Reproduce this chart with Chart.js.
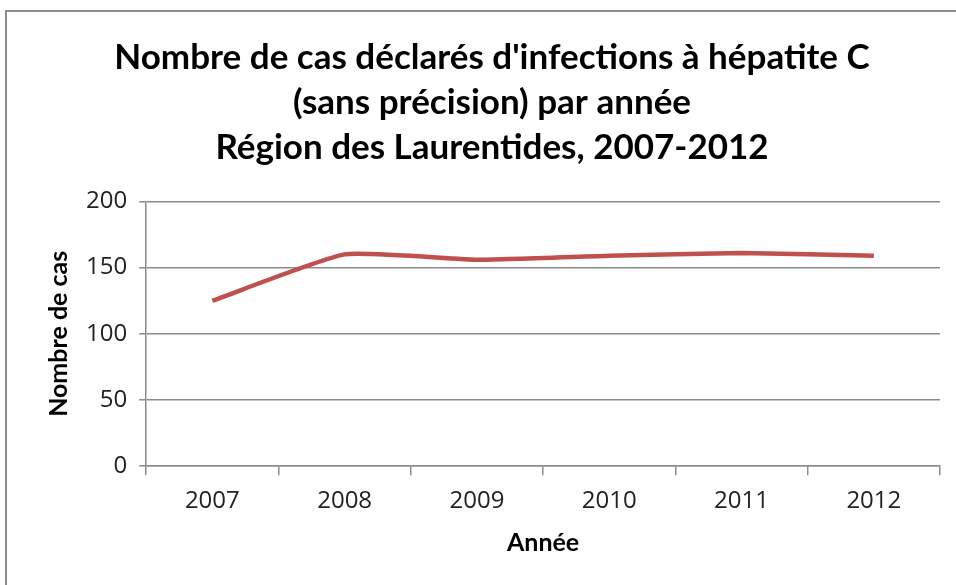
<!DOCTYPE html>
<html>
<head>
<meta charset="utf-8">
<script src="https://cdn.jsdelivr.net/npm/chart.js@4/dist/chart.umd.min.js"></script>
<style>
  html, body { margin: 0; padding: 0; background: #fff; }
  .frame { position: absolute; left: 5px; top: 10px; width: 1000px; height: 700px;
           border-left: 2px solid #8c8c8c; border-top: 2px solid #8c8c8c; }
  .wrap { position: absolute; left: 0; top: 0; width: 956px; height: 585px; }
</style>
</head>
<body>
<div class="frame"></div>
<div class="wrap"><canvas id="chart" width="956" height="585"></canvas></div>
<script>
// data
const years = ['2007', '2008', '2009', '2010', '2011', '2012'];
const cases = [125, 160, 156, 159, 161, 159];
const yTicks = [0, 50, 100, 150, 200];

const titleLines = [
  "Nombre de cas déclarés d'infections à hépatite C",
  '(sans précision) par année',
  'Région des Laurentides, 2007-2012'
];

const ctx = document.getElementById('chart').getContext('2d');
new Chart(ctx, {
  type: 'line',
  data: {
    labels: years,
    datasets: [{
      label: 'Nombre de cas',
      data: cases,
      borderColor: '#c0504d',
      borderWidth: 4.5,
      pointRadius: 0,
      tension: 0.15,
      fill: false,
    }],
  },
  options: {
    responsive: false,
    animation: false,
    layout: { padding: { left: 44, right: 16, top: 35, bottom: 27 } },
    plugins: {
      legend: { display: false },
      tooltip: { enabled: false },
      title: {
        display: true,
        text: titleLines,
        color: '#000',
        font: { family: 'Lato', size: 35, weight: 'bold', lineHeight: 1.29 },
        padding: { top: 0, bottom: 31 },
      },
    },
    scales: {
      x: {
        offset: true,
        grid: { offset: true, drawOnChartArea: false, color: '#8c8c8c', tickLength: 9, lineWidth: 1.5 },
        border: { color: '#8c8c8c', width: 1.5 },
        ticks: { color: '#222', font: { family: 'Open Sans', size: 24 }, padding: 12 },
        title: { display: true, text: 'Année', color: '#000',
                 font: { family: 'Lato', size: 25, weight: 'bold' }, padding: { top: 0, bottom: 0 } },
      },
      y: {
        min: 0,
        max: 200,
        afterBuildTicks: (axis) => { axis.ticks = yTicks.map(v => ({ value: v })); },
        grid: { color: '#8c8c8c', tickLength: 7, lineWidth: 1.5 },
        border: { color: '#8c8c8c', width: 1.5 },
        ticks: { color: '#222', font: { family: 'Open Sans', size: 24 }, padding: 12 },
        title: { display: true, text: 'Nombre de cas', color: '#000',
                 font: { family: 'Lato', size: 25, weight: 'bold' }, padding: { top: 0, bottom: 0 } },
      },
    },
  },
});
</script>
</body>
</html>
